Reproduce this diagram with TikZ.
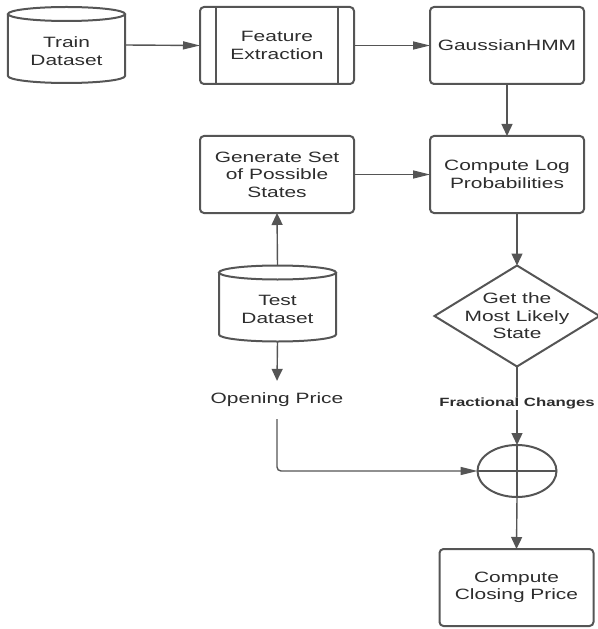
\documentclass[tikz,border=0pt]{standalone}
\usepackage{fontspec}
\setmainfont{Liberation Sans}[FakeStretch=1.4]
\usetikzlibrary{arrows.meta,shapes.geometric}
\definecolor{linegray}{RGB}{85,85,85}
\definecolor{textgray}{RGB}{45,45,45}
\tikzset{
    txt/.style={text=textgray, font=\fontsize{15}{17.5}\selectfont, align=center},
    outline/.style={draw=linegray, line width=2bp},
    box/.style={txt, outline, rounded corners=4bp, minimum width=154bp, minimum height=77bp, inner sep=0pt, outer sep=0pt},
    db/.style={minimum width=117bp, minimum height=76bp, inner sep=0pt, outer sep=0pt},
    decide/.style={diamond, outline, minimum width=165bp, minimum height=101bp, inner sep=0pt, outer sep=0pt},
    junction/.style={ellipse, outline, minimum width=79bp, minimum height=52bp, inner sep=0pt, outer sep=0pt},
    wire/.style={draw=linegray, line width=1.4bp},
    harr/.style={wire, -{Triangle[length=17bp, width=8bp]}},
    varr/.style={wire, -{Triangle[length=12bp, width=11bp]}},
    lbl/.style={text=textgray, font=\fontsize{12}{14}\selectfont\bfseries, fill=white, inner sep=1bp}
}
\newcommand{\drawdb}[1]{
    \draw[outline] ([yshift=-7bp]#1.north) ellipse [x radius=58.5bp, y radius=7bp];
    \draw[outline] ([yshift=-7bp]#1.north west) -- ([yshift=7bp]#1.south west)
        arc [start angle=180, end angle=360, x radius=58.5bp, y radius=7bp]
        -- ([yshift=-7bp]#1.north east);
}
\begin{document}
\begin{tikzpicture}[x=1bp, y=1bp]
                    \useasboundingbox (0,0) rectangle (598,-629);

                    \coordinate (c1) at (66.5,-45);
                    \coordinate (c2) at (277,-45.5);
                    \coordinate (c3) at (507,-45.5);
                    \coordinate (c4) at (277,-174.5);
                    \coordinate (c5) at (507,-174.5);
                    \coordinate (c6) at (277.5,-303.5);
                    \coordinate (c7) at (277,-400);
                    \coordinate (c8) at (517,-316);
                    \coordinate (c9) at (517,-471);
                    \coordinate (c10) at (516.5,-587.5);

                    \node[db, label={[txt, yshift=-6bp]center:{Train\\Dataset}}] (train) at (c1) {};
                    \node[box] (feat) at (c2) {Feature\\Extraction};
                    \node[box] (hmm) at (c3) {GaussianHMM};
                    \node[box] (gen) at (c4) {Generate Set\\of Possible\\States};
                    \node[box] (logp) at (c5) {Compute Log\\Probabilities};
                    \node[db, label={[txt, yshift=-6bp]center:{Test\\Dataset}}] (test) at (c6) {};
                    \node[txt, inner xsep=0pt, inner ysep=12bp] (open) at (c7) {Opening Price};
                    \node[decide] (state) at (c8) {};
                    \node[txt] (statetxt) at (c8) {Get the\\Most Likely\\State};
                    \node[junction] (sum) at (c9) {};
                    \node[box] (close) at (c10) {Compute\\Closing Price};

                    \drawdb{train}
                    \drawdb{test}
                    \draw[outline] ([xshift=16bp]feat.north west) -- ([xshift=16bp]feat.south west)
                                   ([xshift=-16bp]feat.north east) -- ([xshift=-16bp]feat.south east);
                    \draw[outline] (sum.north) -- (sum.south) (sum.west) -- (sum.east);

                    \draw[harr] (train.east) -- (feat.west);
                    \draw[harr] (feat) -- (hmm);
                    \draw[varr] (hmm) -- (logp);
                    \draw[harr] (gen) -- (logp);
                    \draw[varr] (test.north) -- (gen.south);
                    \draw[varr] (logp.south -| state.north) -- (state.north);
                    \draw[varr] (state.south) -- node[lbl, pos=0.47] (frac) {Fractional Changes} (sum.north);
                    \draw[varr] (sum.south) -- (close.north);
                    \draw[varr] (test.south) -- (open.north);
                    \draw[harr, rounded corners=4bp] (open.south) |- (sum.west);

                \end{tikzpicture}
\end{document}
